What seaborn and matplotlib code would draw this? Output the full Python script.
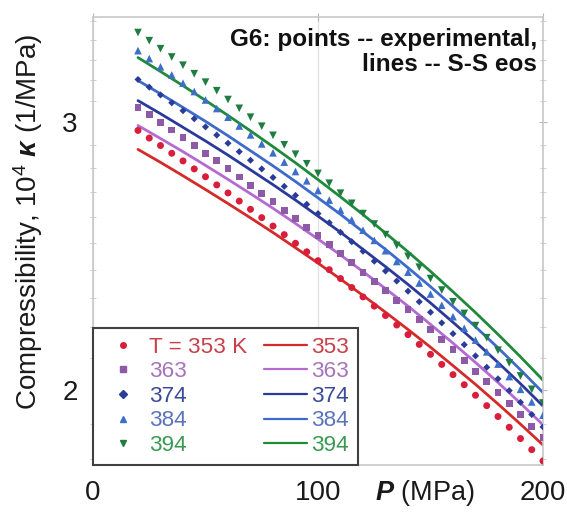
import numpy as np
import pandas as pd
import matplotlib
matplotlib.use("Agg")
import matplotlib.pyplot as plt
from matplotlib.lines import Line2D
from matplotlib.ticker import FixedLocator, MultipleLocator, NullFormatter, FixedFormatter
import seaborn as sns

# pressure grid of the experimental points (MPa)
p_exp = list(range(20, 201, 5))
# pressure grid of the S-S eos lines (MPa)
p_eos = list(range(20, 201, 10))

temps = ["353", "363", "374", "384", "394"]

# experimental compressibility, 10^4 kappa (1/MPa)
exp_353 = [2.964, 2.930, 2.897, 2.863, 2.830, 2.796, 2.763, 2.729, 2.696, 2.663,
           2.630, 2.597, 2.564, 2.531, 2.498, 2.466, 2.433, 2.400, 2.368, 2.336,
           2.303, 2.271, 2.239, 2.207, 2.175, 2.143, 2.111, 2.079, 2.047, 2.016,
           1.984, 1.953, 1.921, 1.890, 1.858, 1.827, 1.796]
exp_363 = [3.069, 3.035, 3.001, 2.966, 2.932, 2.898, 2.864, 2.830, 2.796, 2.762,
           2.728, 2.695, 2.661, 2.627, 2.593, 2.559, 2.526, 2.492, 2.458, 2.425,
           2.391, 2.358, 2.325, 2.291, 2.258, 2.224, 2.191, 2.158, 2.125, 2.091,
           2.058, 2.025, 1.992, 1.959, 1.926, 1.893, 1.860]
exp_374 = [3.202, 3.165, 3.128, 3.091, 3.054, 3.017, 2.980, 2.943, 2.907, 2.870,
           2.833, 2.796, 2.760, 2.723, 2.686, 2.650, 2.613, 2.577, 2.540, 2.504,
           2.468, 2.431, 2.395, 2.359, 2.323, 2.286, 2.250, 2.214, 2.178, 2.142,
           2.106, 2.070, 2.034, 1.998, 1.963, 1.927, 1.891]
exp_384 = [3.345, 3.305, 3.264, 3.224, 3.184, 3.144, 3.104, 3.064, 3.024, 2.984,
           2.944, 2.904, 2.865, 2.825, 2.785, 2.746, 2.706, 2.667, 2.627, 2.588,
           2.548, 2.509, 2.470, 2.430, 2.391, 2.352, 2.313, 2.274, 2.235, 2.196,
           2.157, 2.119, 2.080, 2.041, 2.002, 1.964, 1.925]
exp_394 = [3.438, 3.396, 3.355, 3.313, 3.272, 3.230, 3.189, 3.148, 3.106, 3.065,
           3.024, 2.983, 2.942, 2.900, 2.859, 2.818, 2.777, 2.736, 2.695, 2.654,
           2.613, 2.572, 2.531, 2.490, 2.449, 2.409, 2.368, 2.327, 2.286, 2.246,
           2.205, 2.165, 2.124, 2.084, 2.043, 2.002, 1.961]

# S-S eos
eos_353 = [2.880, 2.824, 2.767, 2.710, 2.653, 2.596, 2.539, 2.481, 2.424, 2.366,
           2.308, 2.250, 2.192, 2.134, 2.075, 2.017, 1.958, 1.899, 1.840]
eos_363 = [2.986, 2.928, 2.870, 2.811, 2.752, 2.693, 2.634, 2.574, 2.514, 2.454,
           2.393, 2.332, 2.271, 2.209, 2.147, 2.085, 2.023, 1.960, 1.897]
eos_374 = [3.101, 3.040, 2.978, 2.917, 2.855, 2.792, 2.730, 2.667, 2.603, 2.540,
           2.475, 2.411, 2.347, 2.282, 2.216, 2.151, 2.085, 2.019, 1.952]
eos_384 = [3.197, 3.133, 3.069, 3.005, 2.940, 2.874, 2.809, 2.743, 2.676, 2.610,
           2.542, 2.475, 2.407, 2.339, 2.270, 2.201, 2.132, 2.062, 1.992]
eos_394 = [3.310, 3.241, 3.172, 3.102, 3.032, 2.962, 2.892, 2.822, 2.751, 2.680,
           2.609, 2.537, 2.466, 2.394, 2.321, 2.249, 2.176, 2.103, 2.030]

exp_vals = [exp_353, exp_363, exp_374, exp_384, exp_394]
eos_vals = [eos_353, eos_363, eos_374, eos_384, eos_394]

marker_colors = ["#d81e3a", "#8e5aa8", "#2a3c98", "#3d6fc8", "#1f7d42"]
line_colors = ["#d42a2a", "#b56ad2", "#2b3a9a", "#3d6acb", "#1f8a3c"]
text_colors = ["#c8404a", "#a674bc", "#3a4a98", "#5a74bc", "#3a9a50"]
markers = ["o", "s", "D", "^", "v"]
msizes = [5, 5, 3.6, 5.5, 5.5]

sns.set_style("white")
plt.rcParams["font.family"] = ["Liberation Sans", "DejaVu Sans"]
plt.rcParams["mathtext.fontset"] = "custom"
plt.rcParams["mathtext.rm"] = "Liberation Sans"
plt.rcParams["mathtext.it"] = "Liberation Sans:italic"
plt.rcParams["mathtext.bf"] = "Liberation Sans:bold"
plt.rcParams["mathtext.bfit"] = "Liberation Sans:italic:bold"

fig = plt.figure(figsize=(5.67, 5.13), dpi=100)
ax = fig.add_axes([93 / 567, 1 - 465 / 513, 450 / 567, 448 / 513])

for i in range(5):
    sns.lineplot(x=p_eos, y=eos_vals[i], color=line_colors[i], lw=2, ax=ax, zorder=2)
    sns.scatterplot(x=p_exp, y=exp_vals[i], color=marker_colors[i], marker=markers[i],
                    s=msizes[i] ** 2, edgecolor="none", ax=ax, zorder=3)

ax.set_yscale("log")
ax.set_xlim(0, 200)
ax.set_ylim(1.785, 3.52)

ax.xaxis.set_major_locator(FixedLocator([0, 100, 200]))
ax.yaxis.set_major_locator(FixedLocator([2, 3]))
ax.yaxis.set_major_formatter(FixedFormatter(["2", "3"]))
ax.yaxis.set_minor_locator(MultipleLocator(0.1))
ax.yaxis.set_minor_formatter(NullFormatter())
ax.tick_params(axis="both", which="major", labelsize=20, direction="inout", length=6,
               color="#b8b8b8", labelcolor="#1a1a1a", right=True, top=True)
ax.tick_params(axis="y", which="minor", direction="inout", length=5, color="#c8c8c8",
               right=True, left=True)
ax.tick_params(axis="x", which="major", pad=8)
ax.tick_params(axis="y", which="major", pad=8)
ax.grid(axis="x", which="major", color="#e2e2e2", lw=1)

for s in ax.spines.values():
    s.set_color("#c8c8c8")
    s.set_linewidth(1.2)

ax.set_ylabel(r"Compressibility, 10$^{4}$ $\boldsymbol{\kappa}$ (1/MPa)", fontsize=20,
              color="#1a1a1a")
ax.yaxis.set_label_coords(-0.144, 0.542)
ax.yaxis.label.set_va("center")
ax.set_xlabel(r"$\boldsymbol{P}$ (MPa)", fontsize=19.5, color="#1a1a1a")
ax.xaxis.set_label_coords(0.738, -0.062)
ax.xaxis.label.set_va("center")

ax.text(0.987, 0.976, "G6: points -- experimental,\nlines -- S-S eos", transform=ax.transAxes,
        ha="right", va="top", multialignment="right", fontsize=17.5, fontweight="bold",
        color="#111111", linespacing=1.15)

handles = []
labels = []
for i in range(5):
    handles.append(Line2D([], [], ls="none", marker=markers[i], color=marker_colors[i],
                          markersize=4))
    labels.append("T = 353 K" if i == 0 else temps[i])
for i in range(5):
    handles.append(Line2D([], [], color=line_colors[i], lw=1.6))
    labels.append(temps[i])

leg = ax.legend(handles, labels, ncol=2, loc="lower left", bbox_to_anchor=(0, 0),
                borderaxespad=0, fontsize=16.2, frameon=True, fancybox=False,
                handlelength=1.9, handletextpad=0.2, columnspacing=0.75,
                labelspacing=0.16, borderpad=0.4)
leg.get_frame().set_edgecolor("#404040")
leg.get_frame().set_linewidth(1.5)
leg.get_frame().set_alpha(1)
for t, c in zip(leg.get_texts(), text_colors + text_colors):
    t.set_color(c)

fig.savefig("out.png", dpi=100)
